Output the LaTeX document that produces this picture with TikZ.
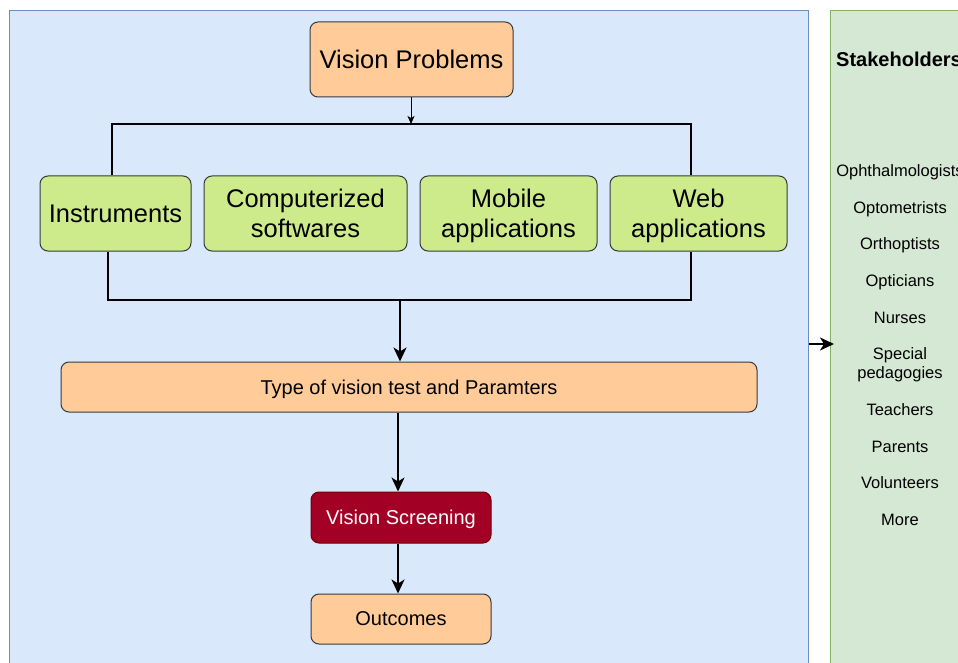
\documentclass[tikz,border=0pt]{standalone}
\usepackage{fontspec}
\setmainfont{Liberation Sans}
\usetikzlibrary{arrows.meta}
\definecolor{peach}{HTML}{FFCC99}
\definecolor{lgreen}{HTML}{CDEB8B}
\definecolor{dred}{HTML}{A20025}
\definecolor{dredline}{HTML}{6F0000}
\definecolor{boxline}{HTML}{36393D}
\definecolor{bluefill}{HTML}{DAE8FC}
\definecolor{blueline}{HTML}{6C8EBF}
\definecolor{gpfill}{HTML}{D5E8D4}
\definecolor{gpline}{HTML}{82B366}
\tikzset{
  box/.style={draw=boxline, line width=1pt, rounded corners=8pt, inner sep=0pt, align=center, text depth=0pt},
  peachbox/.style={box, fill=peach},
  greenbox/.style={box, fill=lgreen, minimum height=75pt, font=\fontsize{25.5}{30}\selectfont},
  bigtxt/.style={font=\fontsize{25.5}{30}\selectfont},
  midtxt/.style={font=\fontsize{20}{24}\selectfont},
  item/.style={font=\fontsize{16.5}{19}\selectfont, align=center, inner sep=0pt, text depth=0pt},
  conn/.style={line width=2pt, draw=black},
  bigarrow/.style={conn, -{Stealth[length=14pt, width=13pt, inset=4pt]}},
  smallarrow/.style={line width=1pt, -{Stealth[length=8pt, width=7pt, inset=2pt]}},
}
\begin{document}
\begin{tikzpicture}[x=1pt, y=-1pt]
\useasboundingbox (0,0) rectangle (958,663);
\clip (0,0) rectangle (958,663);
% panels
\node[draw=blueline, fill=bluefill, line width=1pt, minimum width=799pt, minimum height=670pt, inner sep=0pt, anchor=north west] (bluepanel) at (9,10) {};
\node[draw=gpline, fill=gpfill, line width=1pt, minimum width=150pt, minimum height=670pt, inner sep=0pt, anchor=north west] (greenpanel) at (830,10) {};
% top node
\node[peachbox, bigtxt, minimum width=203pt, minimum height=75pt] (vp) at (411.5,59.5) {Vision Problems};
% green boxes
\node[greenbox, minimum width=151pt] (instr) at (115.5,213.5) {Instruments};
\node[greenbox, minimum width=203pt] (comp) at (305.5,213.5) {Computerized\\softwares};
\node[greenbox, minimum width=177pt] (mob) at (508.5,213.5) {Mobile\\applications};
\node[greenbox, minimum width=177pt] (web) at (698.5,213.5) {Web\\applications};
% lower nodes
\node[peachbox, midtxt, minimum width=696pt, minimum height=50pt] (type) at (409,387) {Type of vision test and Paramters};
\node[box, fill=dred, draw=dredline, text=white, midtxt, minimum width=180pt, minimum height=51pt] (vs) at (401,517.5) {Vision Screening};
\node[peachbox, midtxt, minimum width=180pt, minimum height=50pt] (out) at (401,619) {Outcomes};
% coordinates
\coordinate (topbar) at (411,124);
\coordinate (botbar) at (400,300);
% connectors
\draw[smallarrow] (vp.south -| topbar) -- (topbar);
\draw[conn] ([xshift=-3.5pt]instr.north) |- (topbar) -| ([xshift=-7.5pt]web.north);
\draw[conn] ([xshift=-7.5pt]instr.south) |- (botbar) -| ([xshift=-7.5pt]web.south);
\draw[bigarrow] (botbar) -- (type.north -| botbar);
\draw[bigarrow] (type.south -| 398,0) -- (vs.north -| 398,0);
\draw[bigarrow] (vs.south -| 398,0) -- (out.north -| 398,0);
\draw[bigarrow] (bluepanel.east |- 0,344) -- ([xshift=4pt]greenpanel.west |- 0,344);
% stakeholders
\node[anchor=west, inner sep=0pt, text depth=0pt, font=\bfseries\fontsize{20}{24}\selectfont] (sh) at (836,59) {Stakeholders};
\node[item] (s1) at (900,171) {Ophthalmologists};
\node[item] (s2) at (900,208) {Optometrists};
\node[item] (s3) at (900,244) {Orthoptists};
\node[item] (s4) at (900,281) {Opticians};
\node[item] (s5) at (900,318) {Nurses};
\node[item] (s6) at (900,363.5) {Special\\pedagogies};
\node[item] (s7) at (900,410) {Teachers};
\node[item] (s8) at (900,447) {Parents};
\node[item] (s9) at (900,483) {Volunteers};
\node[item] (s10) at (900,520) {More};
\end{tikzpicture}
\end{document}
